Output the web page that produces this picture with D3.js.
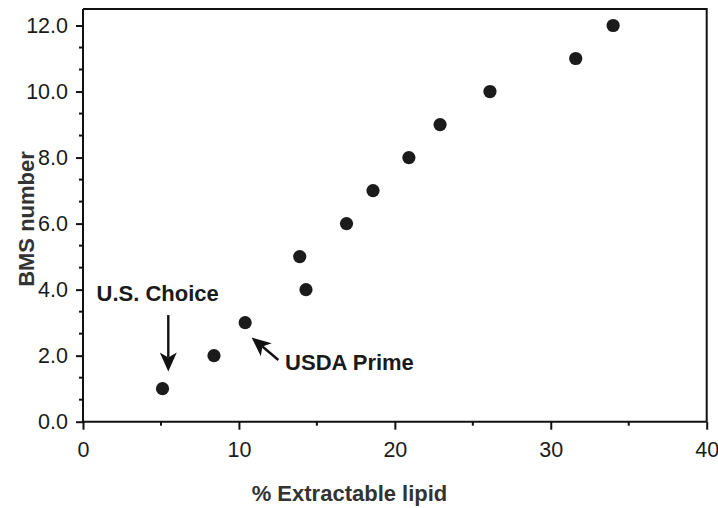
<!DOCTYPE html>
<html>
<head>
<meta charset="utf-8">
<script src="https://cdn.jsdelivr.net/npm/d3@7"></script>
<style>
  html, body { margin: 0; padding: 0; background: #fff; }
  svg { display: block; }
  text { font-family: "Liberation Sans", Arial, Helvetica, sans-serif; }
</style>
</head>
<body>
<svg id="chart" width="718" height="508"></svg>
<script>
// ---- data ----
const lipid = [5.1, 8.4, 10.4, 13.9, 14.3, 16.9, 18.6, 20.9, 22.9, 26.1, 31.6, 34.0];
const bms   = [1.0, 2.0, 3.0, 5.0, 4.0, 6.0, 7.0, 8.0, 9.0, 10.0, 11.0, 12.0];
const xTicks = [0, 10, 20, 30, 40];
const xMinorTicks = [5, 15, 25, 35];
const yTicks = [0, 2, 4, 6, 8, 10, 12];
const yMinorTicks = [0.667, 1.333, 2.667, 3.333, 4.667, 5.333, 6.667, 7.333, 8.667, 9.333, 10.667, 11.333];
const annLabels = ["U.S. Choice", "USDA Prime"];
const annTextPos = [[0.87, 3.66], [12.96, 1.57]];     // data coords of text start
const annArrowFrom = [[5.47, 3.23], [12.53, 1.87]];   // data coords of arrow tail
const annArrowTo = [[5.47, 1.52], [10.82, 2.55]];     // data coords of arrow tip
const xTitle = "% Extractable lipid";
const yTitle = "BMS number";

// ---- layout ----
const svg = d3.select("#chart");
const x = d3.scaleLinear().domain([0, 40]).range([83, 706.7]);
const y = d3.scaleLinear().domain([0, 12.5]).range([421.7, 9]);

// frame (top & right)
svg.append("path")
  .attr("d", `M${x(0)},${y(12.5)}H${x(40)}V${y(0)}`)
  .attr("fill", "none").attr("stroke", "#111").attr("stroke-width", 2);

// x axis
const xAxis = svg.append("g").attr("transform", `translate(0,${y(0)})`);
xAxis.call(d3.axisBottom(x).tickValues(xTicks).tickSize(8).tickPadding(12).tickFormat(d3.format("d")));
xAxis.append("g").selectAll("line").data(xMinorTicks).join("line")
  .attr("x1", d => x(d)).attr("x2", d => x(d)).attr("y1", 0).attr("y2", 4)
  .attr("stroke", "#111").attr("stroke-width", 2);

// y axis
const yAxis = svg.append("g").attr("transform", `translate(${x(0)},0)`);
yAxis.call(d3.axisLeft(y).tickValues(yTicks).tickSize(7).tickPadding(8).tickFormat(d3.format(".1f")));
yAxis.append("g").selectAll("line").data(yMinorTicks).join("line")
  .attr("y1", d => y(d)).attr("y2", d => y(d)).attr("x1", 0).attr("x2", -4)
  .attr("stroke", "#111").attr("stroke-width", 2);

[xAxis, yAxis].forEach(g => {
  g.select(".domain").attr("stroke", "#111").attr("stroke-width", 2);
  g.selectAll(".tick line").attr("stroke", "#111").attr("stroke-width", 2);
  g.selectAll(".tick text").attr("fill", "#1a1a1a")
    .style("font-family", '"Liberation Sans", Arial, sans-serif').style("font-size", "21.5px");
});
yAxis.select(".domain").attr("d", `M-7,${y(12.5)}H0V${y(0)}H-7`);
yAxis.select(".domain").attr("d", `M0,${y(12.5)}V${y(0)}`);
xAxis.select(".domain").attr("d", `M${x(0)},0H${x(40)}`);

// points
svg.append("g").selectAll("circle").data(lipid.map((v, i) => [v, bms[i]])).join("circle")
  .attr("cx", d => x(d[0])).attr("cy", d => y(d[1])).attr("r", 6.6).attr("fill", "#1b1b1b");

// annotations
function arrow(from, to) {
  const x0 = x(from[0]), y0 = y(from[1]), x1 = x(to[0]), y1 = y(to[1]);
  const dx = x1 - x0, dy = y1 - y0, L = Math.hypot(dx, dy);
  const ux = dx / L, uy = dy / L, px = -uy, py = ux;
  const hl = 19, hw = 8.5, notch = 5;
  const bx = x1 - ux * hl, by = y1 - uy * hl;
  const nx = x1 - ux * (hl - notch), ny = y1 - uy * (hl - notch);
  svg.append("line").attr("x1", x0).attr("y1", y0).attr("x2", nx).attr("y2", ny)
    .attr("stroke", "#111").attr("stroke-width", 2.4);
  svg.append("path")
    .attr("d", `M${x1},${y1}L${bx + px * hw},${by + py * hw}L${nx},${ny}L${bx - px * hw},${by - py * hw}Z`)
    .attr("fill", "#111");
}
annLabels.forEach((t, i) => {
  svg.append("text").attr("x", x(annTextPos[i][0])).attr("y", y(annTextPos[i][1]))
    .attr("font-size", 22).attr("font-weight", "bold").attr("fill", "#1a1a1a").text(t);
  arrow(annArrowFrom[i], annArrowTo[i]);
});

// axis titles
svg.append("text").attr("x", 349.5).attr("y", 501).attr("text-anchor", "middle")
  .attr("font-size", 22).attr("font-weight", "bold").attr("fill", "#333").text(xTitle);
svg.append("text").attr("transform", "translate(34,219) rotate(-90)").attr("text-anchor", "middle")
  .attr("font-size", 22).attr("font-weight", "bold").attr("fill", "#333").text(yTitle);
</script>
</body>
</html>
